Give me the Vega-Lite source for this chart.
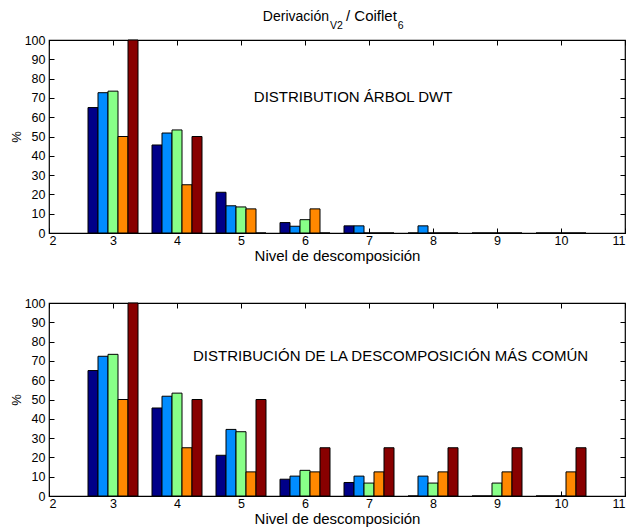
{
  "$schema": "https://vega.github.io/schema/vega-lite/v6.json",
  "padding": {"left": 9, "top": 8, "right": 0, "bottom": 0},
  "background": "white",
  "config": {
    "font": "Liberation Sans",
    "view": {"stroke": "black", "strokeWidth": 1.2},
    "axis": {"domain": false, "grid": false, "tickColor": "black", "tickSize": -5, "labelColor": "black", "titleColor": "black", "labelFont": "Liberation Sans", "titleFont": "Liberation Sans", "titleFontWeight": "normal", "labelFontSize": 12.5, "titleFontSize": 15}
  },
  "spacing": 31,
  "datasets": {
    "dwt": [
      {"level": 3, "series": "S1", "value": 65}, {"level": 3, "series": "S2", "value": 72.7}, {"level": 3, "series": "S3", "value": 73.5}, {"level": 3, "series": "S4", "value": 50}, {"level": 3, "series": "S5", "value": 100},
      {"level": 4, "series": "S1", "value": 45.6}, {"level": 4, "series": "S2", "value": 51.8}, {"level": 4, "series": "S3", "value": 53.4}, {"level": 4, "series": "S4", "value": 25}, {"level": 4, "series": "S5", "value": 50},
      {"level": 5, "series": "S1", "value": 21.1}, {"level": 5, "series": "S2", "value": 14.1}, {"level": 5, "series": "S3", "value": 13.5}, {"level": 5, "series": "S4", "value": 12.5}, {"level": 5, "series": "S5", "value": 0},
      {"level": 6, "series": "S1", "value": 5.4}, {"level": 6, "series": "S2", "value": 3.5}, {"level": 6, "series": "S3", "value": 6.9}, {"level": 6, "series": "S4", "value": 12.5}, {"level": 6, "series": "S5", "value": 0},
      {"level": 7, "series": "S1", "value": 3.7}, {"level": 7, "series": "S2", "value": 3.7}, {"level": 7, "series": "S3", "value": 0}, {"level": 7, "series": "S4", "value": 0}, {"level": 7, "series": "S5", "value": 0},
      {"level": 8, "series": "S1", "value": 0}, {"level": 8, "series": "S2", "value": 3.7}, {"level": 8, "series": "S3", "value": 0}, {"level": 8, "series": "S4", "value": 0}, {"level": 8, "series": "S5", "value": 0},
      {"level": 9, "series": "S1", "value": 0}, {"level": 9, "series": "S2", "value": 0}, {"level": 9, "series": "S3", "value": 0}, {"level": 9, "series": "S4", "value": 0}, {"level": 9, "series": "S5", "value": 0},
      {"level": 10, "series": "S1", "value": 0}, {"level": 10, "series": "S2", "value": 0}, {"level": 10, "series": "S3", "value": 0}, {"level": 10, "series": "S4", "value": 0}, {"level": 10, "series": "S5", "value": 0}
    ],
    "comun": [
      {"level": 3, "series": "S1", "value": 65}, {"level": 3, "series": "S2", "value": 72.4}, {"level": 3, "series": "S3", "value": 73.4}, {"level": 3, "series": "S4", "value": 50}, {"level": 3, "series": "S5", "value": 100},
      {"level": 4, "series": "S1", "value": 45.6}, {"level": 4, "series": "S2", "value": 51.7}, {"level": 4, "series": "S3", "value": 53.3}, {"level": 4, "series": "S4", "value": 25}, {"level": 4, "series": "S5", "value": 50},
      {"level": 5, "series": "S1", "value": 21.1}, {"level": 5, "series": "S2", "value": 34.5}, {"level": 5, "series": "S3", "value": 33.3}, {"level": 5, "series": "S4", "value": 12.5}, {"level": 5, "series": "S5", "value": 50},
      {"level": 6, "series": "S1", "value": 8.7}, {"level": 6, "series": "S2", "value": 10.3}, {"level": 6, "series": "S3", "value": 13.3}, {"level": 6, "series": "S4", "value": 12.5}, {"level": 6, "series": "S5", "value": 25},
      {"level": 7, "series": "S1", "value": 7}, {"level": 7, "series": "S2", "value": 10.3}, {"level": 7, "series": "S3", "value": 6.7}, {"level": 7, "series": "S4", "value": 12.5}, {"level": 7, "series": "S5", "value": 25},
      {"level": 8, "series": "S1", "value": 0}, {"level": 8, "series": "S2", "value": 10.3}, {"level": 8, "series": "S3", "value": 6.7}, {"level": 8, "series": "S4", "value": 12.5}, {"level": 8, "series": "S5", "value": 25},
      {"level": 9, "series": "S1", "value": 0}, {"level": 9, "series": "S2", "value": 0}, {"level": 9, "series": "S3", "value": 6.7}, {"level": 9, "series": "S4", "value": 12.5}, {"level": 9, "series": "S5", "value": 25},
      {"level": 10, "series": "S1", "value": 0}, {"level": 10, "series": "S2", "value": 0}, {"level": 10, "series": "S3", "value": 0}, {"level": 10, "series": "S4", "value": 12.5}, {"level": 10, "series": "S5", "value": 25}
    ]
  },
  "vconcat": [
    {
      "width": 576,
      "height": 193,
      "data": {"name": "dwt"},
      "layer": [
        {
          "mark": {"type": "bar", "stroke": "black", "strokeWidth": 1},
          "encoding": {
            "x": {"field": "level", "type": "ordinal", "scale": {"domain": [3, 4, 5, 6, 7, 8, 9, 10], "paddingInner": 0, "paddingOuter": 0.5}, "axis": null},
            "xOffset": {"field": "series", "type": "nominal", "scale": {"paddingInner": 0, "paddingOuter": 0.7}},
            "y": {"field": "value", "type": "quantitative", "scale": {"domain": [0, 100], "nice": false}, "axis": {"orient": "left", "values": [0, 10, 20, 30, 40, 50, 60, 70, 80, 90, 100], "title": "%", "titleFontSize": 13, "titlePadding": 1, "labelPadding": 9}},
            "color": {"field": "series", "type": "nominal", "scale": {"domain": ["S1", "S2", "S3", "S4", "S5"], "range": ["#000088", "#008CFF", "#88FF88", "#FF8800", "#880000"]}, "legend": null}
          }
        },
        {
          "mark": {"type": "point", "opacity": 0},
          "encoding": {
            "x": {"datum": 2, "type": "quantitative", "scale": {"domain": [2, 11], "nice": false, "zero": false}, "axis": {"orient": "bottom", "values": [2, 3, 4, 5, 6, 7, 8, 9, 10, 11], "title": "Nivel de descomposición", "labelPadding": 6, "titlePadding": 2}},
            "y": {"datum": 0, "type": "quantitative", "scale": {"domain": [0, 100], "nice": false}, "axis": {"orient": "right", "values": [0, 10, 20, 30, 40, 50, 60, 70, 80, 90, 100], "labels": false, "title": null}}
          }
        },
        {
          "mark": {"type": "point", "opacity": 0},
          "encoding": {
            "x": {"datum": 2, "type": "quantitative", "scale": {"domain": [2, 11], "nice": false, "zero": false}, "axis": {"orient": "top", "values": [2, 3, 4, 5, 6, 7, 8, 9, 10, 11], "labels": false, "title": null}},
            "y": {"datum": 0, "type": "quantitative", "scale": {"domain": [0, 100], "nice": false}, "axis": null}
          }
        },
        {
          "data": {"values": [{"label": "DISTRIBUTION ÁRBOL DWT"}]},
          "mark": {"type": "text", "align": "left", "baseline": "alphabetic", "fontSize": 15, "color": "black"},
          "encoding": {
            "text": {"field": "label"},
            "x": {"datum": 5.2, "type": "quantitative", "scale": {"domain": [2, 11], "nice": false, "zero": false}, "axis": null},
            "y": {"datum": 68, "type": "quantitative", "scale": {"domain": [0, 100], "nice": false}, "axis": null}
          }
        },
        {
          "data": {"values": [{"label": "Derivación"}]},
          "mark": {"type": "text", "align": "right", "baseline": "alphabetic", "fontSize": 14, "color": "black"},
          "encoding": {
            "text": {"field": "label"},
            "x": {"datum": 6.375, "type": "quantitative", "scale": {"domain": [2, 11], "nice": false, "zero": false}, "axis": null},
            "y": {"datum": 109.6, "type": "quantitative", "scale": {"domain": [0, 100], "nice": false}, "axis": null}
          }
        },
        {
          "data": {"values": [{"label": "V2"}]},
          "mark": {"type": "text", "align": "left", "baseline": "alphabetic", "fontSize": 10.5, "color": "black"},
          "encoding": {
            "text": {"field": "label"},
            "x": {"datum": 6.39, "type": "quantitative", "scale": {"domain": [2, 11], "nice": false, "zero": false}, "axis": null},
            "y": {"datum": 105.6, "type": "quantitative", "scale": {"domain": [0, 100], "nice": false}, "axis": null}
          }
        },
        {
          "data": {"values": [{"label": "/ Coiflet"}]},
          "mark": {"type": "text", "align": "left", "baseline": "alphabetic", "fontSize": 15, "color": "black"},
          "encoding": {
            "text": {"field": "label"},
            "x": {"datum": 6.64, "type": "quantitative", "scale": {"domain": [2, 11], "nice": false, "zero": false}, "axis": null},
            "y": {"datum": 109.6, "type": "quantitative", "scale": {"domain": [0, 100], "nice": false}, "axis": null}
          }
        },
        {
          "data": {"values": [{"label": "6"}]},
          "mark": {"type": "text", "align": "left", "baseline": "alphabetic", "fontSize": 10.5, "color": "black"},
          "encoding": {
            "text": {"field": "label"},
            "x": {"datum": 7.45, "type": "quantitative", "scale": {"domain": [2, 11], "nice": false, "zero": false}, "axis": null},
            "y": {"datum": 105.6, "type": "quantitative", "scale": {"domain": [0, 100], "nice": false}, "axis": null}
          }
        }
      ],
      "resolve": {"scale": {"x": "independent"}, "axis": {"y": "independent"}}
    },
    {
      "width": 576,
      "height": 193,
      "data": {"name": "comun"},
      "layer": [
        {
          "mark": {"type": "bar", "stroke": "black", "strokeWidth": 1},
          "encoding": {
            "x": {"field": "level", "type": "ordinal", "scale": {"domain": [3, 4, 5, 6, 7, 8, 9, 10], "paddingInner": 0, "paddingOuter": 0.5}, "axis": null},
            "xOffset": {"field": "series", "type": "nominal", "scale": {"paddingInner": 0, "paddingOuter": 0.7}},
            "y": {"field": "value", "type": "quantitative", "scale": {"domain": [0, 100], "nice": false}, "axis": {"orient": "left", "values": [0, 10, 20, 30, 40, 50, 60, 70, 80, 90, 100], "title": "%", "titleFontSize": 13, "titlePadding": 1, "labelPadding": 9}},
            "color": {"field": "series", "type": "nominal", "scale": {"domain": ["S1", "S2", "S3", "S4", "S5"], "range": ["#000088", "#008CFF", "#88FF88", "#FF8800", "#880000"]}, "legend": null}
          }
        },
        {
          "mark": {"type": "point", "opacity": 0},
          "encoding": {
            "x": {"datum": 2, "type": "quantitative", "scale": {"domain": [2, 11], "nice": false, "zero": false}, "axis": {"orient": "bottom", "values": [2, 3, 4, 5, 6, 7, 8, 9, 10, 11], "title": "Nivel de descomposición", "labelPadding": 6, "titlePadding": 2}},
            "y": {"datum": 0, "type": "quantitative", "scale": {"domain": [0, 100], "nice": false}, "axis": {"orient": "right", "values": [0, 10, 20, 30, 40, 50, 60, 70, 80, 90, 100], "labels": false, "title": null}}
          }
        },
        {
          "mark": {"type": "point", "opacity": 0},
          "encoding": {
            "x": {"datum": 2, "type": "quantitative", "scale": {"domain": [2, 11], "nice": false, "zero": false}, "axis": {"orient": "top", "values": [2, 3, 4, 5, 6, 7, 8, 9, 10, 11], "labels": false, "title": null}},
            "y": {"datum": 0, "type": "quantitative", "scale": {"domain": [0, 100], "nice": false}, "axis": null}
          }
        },
        {
          "data": {"values": [{"label": "DISTRIBUCIÓN DE LA DESCOMPOSICIÓN MÁS COMÚN"}]},
          "mark": {"type": "text", "align": "left", "baseline": "alphabetic", "fontSize": 15, "color": "black"},
          "encoding": {
            "text": {"field": "label"},
            "x": {"datum": 4.25, "type": "quantitative", "scale": {"domain": [2, 11], "nice": false, "zero": false}, "axis": null},
            "y": {"datum": 69.9, "type": "quantitative", "scale": {"domain": [0, 100], "nice": false}, "axis": null}
          }
        }
      ],
      "resolve": {"scale": {"x": "independent"}, "axis": {"y": "independent"}}
    }
  ]
}
